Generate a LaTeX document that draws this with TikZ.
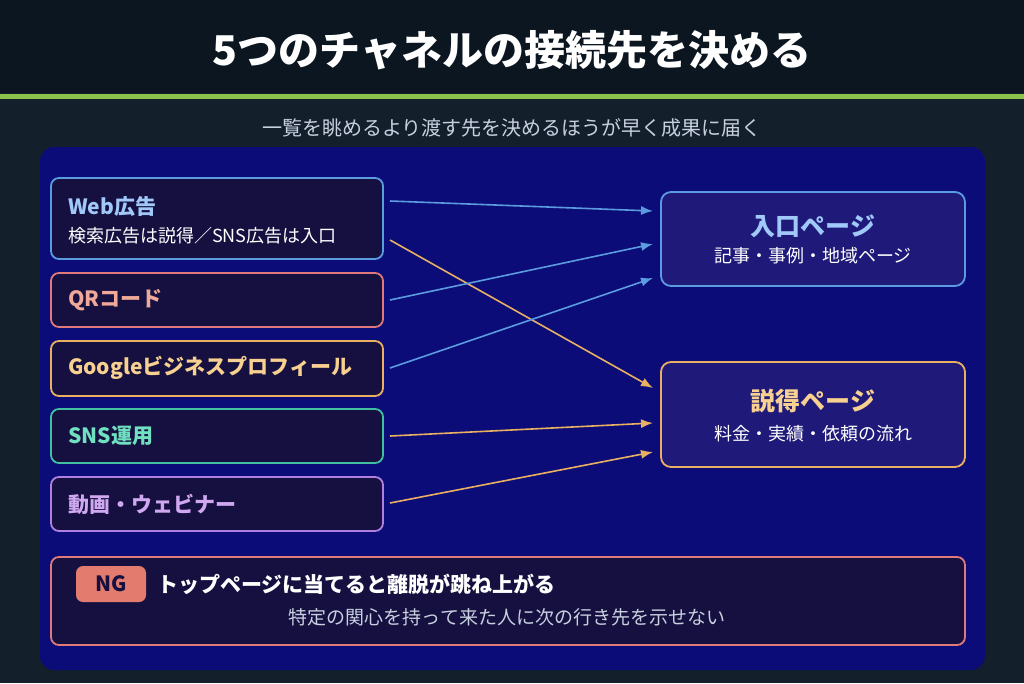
\documentclass[tikz,border=0pt]{standalone}
\usepackage{fontspec}
\setmainfont{Noto Sans CJK JP}
\usetikzlibrary{arrows.meta}
\definecolor{bgA}{HTML}{0B1620}
\definecolor{bgB}{HTML}{13202C}
\definecolor{panel}{HTML}{0B0C78}
\definecolor{boxf}{HTML}{151040}
\definecolor{rboxf}{HTML}{1F1A7A}
\definecolor{cblue}{HTML}{5B9BE0}
\definecolor{cred}{HTML}{E07A7A}
\definecolor{corange}{HTML}{E8B060}
\definecolor{cgreen}{HTML}{40C0A0}
\definecolor{cpurple}{HTML}{B080E0}
\definecolor{tblue}{HTML}{A0C8F8}
\definecolor{tred}{HTML}{F0A898}
\definecolor{torange}{HTML}{F8D090}
\definecolor{tgreen}{HTML}{70E0C0}
\definecolor{tpurple}{HTML}{D0A8F0}
\definecolor{lime}{HTML}{8BC34A}
\definecolor{subt}{HTML}{C8D0E0}
\begin{document}
\begin{tikzpicture}[x=1pt,y=-1pt,
  lbox/.style={draw=#1,line width=1.8pt,fill=boxf,rounded corners=8pt},
  rbox/.style={draw=#1,line width=1.8pt,fill=rboxf,rounded corners=10pt},
  arr/.style={draw=#1,line width=1.6pt,-{Latex[length=12pt,width=9pt]}},
  ttl/.style={font=\bfseries\fontsize{21}{25}\selectfont,anchor=west,inner sep=0pt},
  sub/.style={font=\fontsize{18}{21}\selectfont,text=white}]
\useasboundingbox (0,0) rectangle (1024,683);
\fill[bgB] (0,0) rectangle (1024,683);
\fill[bgA] (0,0) rectangle (1024,93);
\fill[lime] (0,94) rectangle (1024,99);
\node[text=white,font=\bfseries\fontsize{41}{46}\selectfont] (title) at (512,50) {5つのチャネルの接続先を決める};
\node[text=subt,font=\fontsize{20}{23}\selectfont] (subtitle) at (512,128) {一覧を眺めるより渡す先を決めるほうが早く成果に届く};
\fill[panel,rounded corners=14pt] (40,147) rectangle (985,670);
% left boxes
\draw[lbox=cblue] (51,178) rectangle (383,259);
\node[ttl,text=tblue] (web) at (68,207) {Web広告};
\node[sub,anchor=west,inner sep=0pt] (websub) at (68,236) {検索広告は説得／SNS広告は入口};
\draw[lbox=cred] (51,273) rectangle (383,327);
\node[ttl,text=tred] (qr) at (68,300) {QRコード};
\draw[lbox=corange] (51,341) rectangle (383,396);
\node[ttl,text=torange] (gbp) at (68,368) {Googleビジネスプロフィール};
\draw[lbox=cgreen] (51,409) rectangle (383,463);
\node[ttl,text=tgreen] (sns) at (68,436) {SNS運用};
\draw[lbox=cpurple] (51,477) rectangle (383,531);
\node[ttl,text=tpurple] (movie) at (68,504) {動画・ウェビナー};
% right boxes
\draw[rbox=cblue] (661,192) rectangle (965,286);
\node[text=tblue,font=\bfseries\fontsize{25}{29}\selectfont] (entry) at (813,226) {入口ページ};
\node[sub] (entrysub) at (813,256) {記事・事例・地域ページ};
\draw[rbox=corange] (661,362) rectangle (965,467);
\node[text=torange,font=\bfseries\fontsize{25}{29}\selectfont] (pers) at (813,401) {説得ページ};
\node[sub] (perssub) at (813,434) {料金・実績・依頼の流れ};
% arrows
\coordinate (w1) at (390,201); \coordinate (w2) at (390,240);
\coordinate (q1) at (390,300); \coordinate (g1) at (390,368);
\coordinate (s1) at (390,436); \coordinate (m1) at (390,503);
\coordinate (e1) at (653,211); \coordinate (e2) at (653,244); \coordinate (e3) at (653,278);
\coordinate (p1) at (653,388); \coordinate (p2) at (653,423); \coordinate (p3) at (653,452);
\draw[arr=cblue] (w1) -- (e1);
\draw[arr=corange] (w2) -- (p1);
\draw[arr=cblue] (q1) -- (e2);
\draw[arr=cblue] (g1) -- (e3);
\draw[arr=corange] (s1) -- (p2);
\draw[arr=corange] (m1) -- (p3);
% NG box
\draw[lbox=cred] (51,557) rectangle (965,645);
\node[fill=cred!90!orange,rounded corners=7pt,minimum width=70pt,minimum height=36pt,text=boxf,font=\bfseries\fontsize{21}{24}\selectfont] (ng) at (111,584) {NG};
\node[anchor=west,inner sep=0pt,text=white,font=\bfseries\fontsize{21}{25}\selectfont] (nghead) at (157,584) {トップページに当てると離脱が跳ね上がる};
\node[text=subt,font=\fontsize{19}{22}\selectfont] (ngsub) at (507,617) {特定の関心を持って来た人に次の行き先を示せない};
\end{tikzpicture}
\end{document}
